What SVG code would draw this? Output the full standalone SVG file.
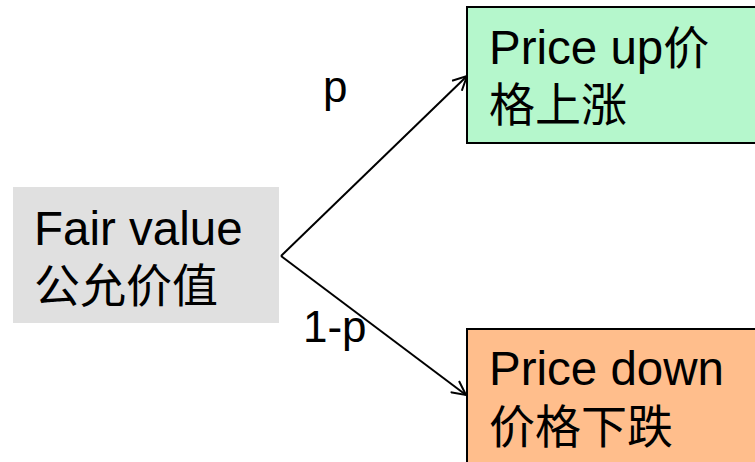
<svg xmlns="http://www.w3.org/2000/svg" width="755" height="462" viewBox="0 0 755 462">
<style>
.t{font-family:"Liberation Sans","Noto Sans CJK SC",Arial,sans-serif;font-size:47.5px;fill:#000}
.c{font-family:"Liberation Sans","Noto Sans CJK SC",Arial,sans-serif;font-size:46px;fill:#000}
.lbl{font-family:"Liberation Sans",Arial,sans-serif;font-size:44px;fill:#000}
.edge{stroke:#000;stroke-width:2;fill:none}
.box{stroke:#000;stroke-width:2}
</style>
<defs>
<marker id="arr" viewBox="0 0 16 16" refX="15" refY="8" markerWidth="16" markerHeight="16" markerUnits="userSpaceOnUse" orient="auto">
<path d="M1,1 L15,8 L1,15" fill="none" stroke="#000" stroke-width="2"/>
</marker>
</defs>
<rect width="755" height="462" fill="#fff"/>
<g id="fair">
<rect x="13" y="187" width="266" height="136" fill="#e0e0e0"/>
<text class="t" x="34" y="245">Fair value</text>
<text class="c" x="34" y="302">公允价值</text>
</g>
<g id="up">
<rect class="box" x="467" y="7" width="300" height="136" fill="#b5f7cc"/>
<text class="t" x="489" y="64">Price up<tspan style="font-size:46px">价</tspan></text>
<text class="c" x="489" y="121">格上涨</text>
</g>
<g id="down">
<rect class="box" x="467" y="329" width="300" height="150" fill="#ffbe8c"/>
<text class="t" x="489" y="385">Price down</text>
<text class="c" x="489" y="443">价格下跌</text>
</g>
<g id="connectors">
<path class="edge" d="M281,256 L467,76" marker-end="url(#arr)"/>
<path class="edge" d="M281,256 L466,395" marker-end="url(#arr)"/>
<text class="lbl" x="323" y="102">p</text>
<text class="lbl" x="303" y="342">1-p</text>
</g>
</svg>
